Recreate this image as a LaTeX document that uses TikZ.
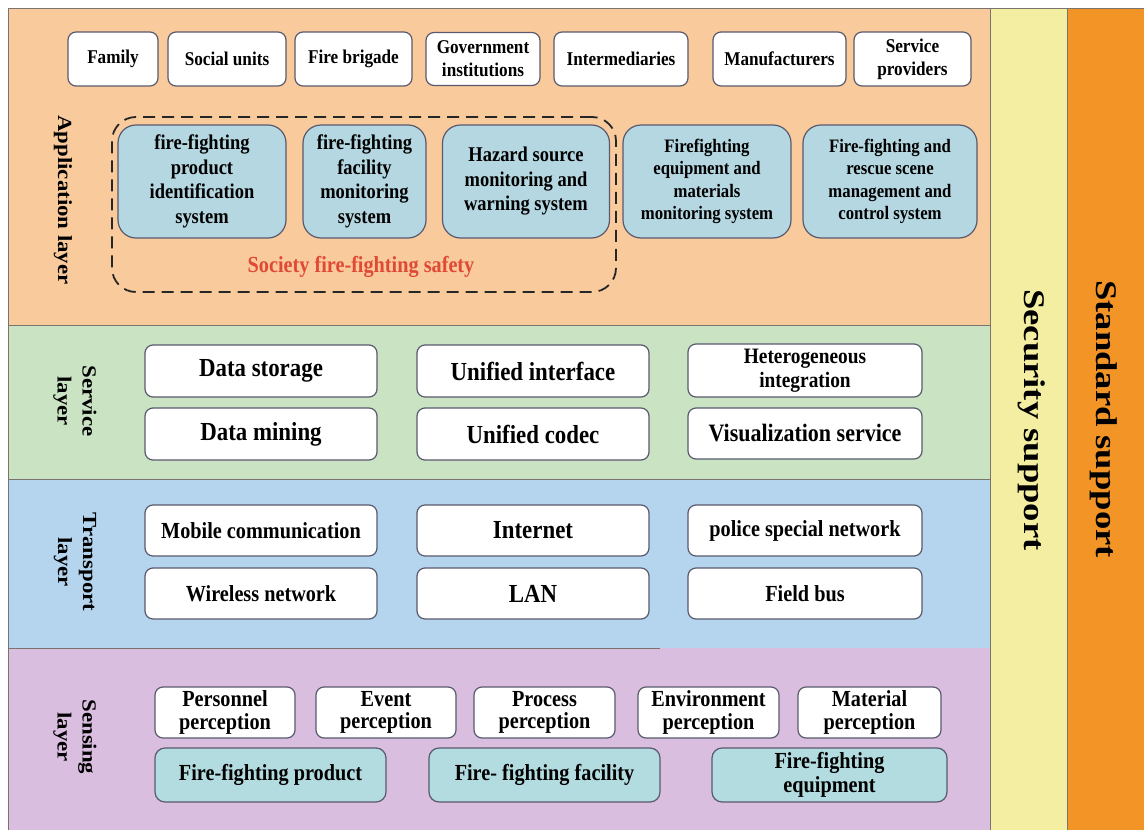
\documentclass[tikz,border=0pt]{standalone}
\usepackage{fontspec}
\setmainfont{Liberation Serif}
% condensed serif for horizontal labels, extended serif for the vertical ones
\newfontfamily\hb{Liberation Serif}[FakeStretch=0.88]
\newfontfamily\vb{Liberation Serif}[FakeStretch=1.14]
\newfontfamily\vc{Liberation Serif}[FakeStretch=1.22]
\newcommand\fz[2]{\fontsize{#1}{#2}\selectfont}

\definecolor{appbg}{HTML}{F9CA9C}
\definecolor{svcbg}{HTML}{C9E3C3}
\definecolor{trbg}{HTML}{B5D5EE}
\definecolor{snbg}{HTML}{D9BEDF}
\definecolor{secbg}{HTML}{F3EEA2}
\definecolor{stdbg}{HTML}{F29426}
\definecolor{appblue}{HTML}{B4D7E1}
\definecolor{senseblue}{HTML}{B3DCE0}
\definecolor{boxline}{HTML}{5A5A6E}
\definecolor{edgegray}{HTML}{7A7470}
\definecolor{redtxt}{HTML}{E04A35}

\begin{document}
\begin{tikzpicture}[x=1pt,y=-1pt,
  wbox/.style={draw=boxline, line width=1.2pt, fill=white, rounded corners=8pt,
    align=center, inner sep=0pt},
  bbox/.style={draw=boxline, line width=1.2pt, fill=appblue, rounded corners=18pt,
    align=center, inner sep=0pt},
  sbox/.style={draw=boxline, line width=1.2pt, fill=senseblue, rounded corners=10pt,
    align=center, inner sep=0pt},
  layerlabel/.style={rotate=-90, align=center, inner sep=0pt, font=\vb\bfseries\fz{20}{25}},
  sidelabel/.style={rotate=-90, inner sep=0pt, font=\vc\bfseries\fz{30}{34}},
  edge/.style={draw=edgegray, line width=1pt}]

\useasboundingbox (0,0) rectangle (1144,830);
\fill[white] (0,0) rectangle (1144,830);

% layer bands
\fill[appbg] (8,8) rectangle (990,325);
\fill[svcbg] (8,325) rectangle (990,479);
\fill[trbg]  (8,479) rectangle (990,648);
\fill[snbg]  (8,648) rectangle (990,830);
\fill[secbg] (990,8) rectangle (1067,830);
\fill[stdbg] (1067,8) rectangle (1144,830);

% band borders
\draw[edge] (8,830) -- (8,8) -- (1144,8);
\draw[edge] (990,8) -- (990,830);
\draw[edge] (1067,8) -- (1067,830);
\draw[edge] (8,325) -- (990,325);
\draw[edge] (8,479) -- (990,479);
\draw[edge] (8,648) -- (660,648);

% side columns
\node[sidelabel] (sec) at (1032,420) {Security support};
\node[sidelabel] (std) at (1104,419) {Standard support};

% layer names
\node[layerlabel] (lapp) at (63,200) {Application layer};
\node[layerlabel] (lsvc) at (75,401) {Service\\layer};
\node[layerlabel] (ltr)  at (75,562) {Transport\\layer};
\node[layerlabel] (lsn)  at (75,737) {Sensing\\layer};

% ---------- application layer ----------
\begin{scope}[every node/.append style={font=\hb\bfseries\fz{19.5}{23}}]
\node[wbox, minimum width=90pt,  minimum height=54pt] (family) at (113,59)   {Family};
\node[wbox, minimum width=118pt, minimum height=54pt] (social) at (227,59)   {Social units};
\node[wbox, minimum width=117pt, minimum height=54pt] (brig)   at (353.5,59) {Fire brigade};
\node[wbox, minimum width=114pt, minimum height=53pt] (gov)    at (483,59)   {Government\\institutions};
\node[wbox, minimum width=134pt, minimum height=54pt] (inter)  at (621,59)   {Intermediaries};
\node[wbox, minimum width=133pt, minimum height=54pt] (manu)   at (779.5,59) {Manufacturers};
\node[wbox, minimum width=117pt, minimum height=54pt] (serv)   at (912.5,59) {Service\\providers};
\end{scope}

\node[draw=black!85, line width=1.8pt, dash pattern=on 12pt off 7pt, rounded corners=24pt,
      minimum width=504pt, minimum height=175pt, inner sep=0pt] (safety) at (364,204.5) {};

\begin{scope}[every node/.append style={font=\hb\bfseries\fz{21}{24.5}}]
\node[bbox, minimum width=168pt, minimum height=113pt] (prodid) at (202,181.5)
  {fire-fighting\\product\\identification\\system};
\node[bbox, minimum width=123pt, minimum height=113pt] (facmon) at (364.5,181.5)
  {fire-fighting\\facility\\monitoring\\system};
\node[bbox, minimum width=167pt, minimum height=113pt] (hazard) at (526,181.5)
  {Hazard source\\monitoring and\\warning system};
\end{scope}
\begin{scope}[every node/.append style={font=\hb\bfseries\fz{19}{22.5}}]
\node[bbox, minimum width=168pt, minimum height=113pt] (equip) at (707,181.5)
  {Firefighting\\equipment and\\materials\\monitoring system};
\node[bbox, minimum width=174pt, minimum height=113pt] (rescue) at (890,181.5)
  {Fire-fighting and\\rescue scene\\management and\\control system};
\end{scope}

\node[text=redtxt, font=\hb\bfseries\fz{23}{26}, inner sep=0pt] (safetylbl) at (361,267)
  {Society fire-fighting safety};

% ---------- service layer ----------
\begin{scope}[every node/.append style={font=\hb\bfseries\fz{26}{28}}]
\node[wbox, minimum width=232pt, minimum height=52pt] (store)  at (261,371) {Data storage};
\node[wbox, minimum width=232pt, minimum height=52pt] (mine)   at (261,434) {Data mining};
\node[wbox, minimum width=232pt, minimum height=52pt] (uiface) at (533,371) {Unified interface};
\node[wbox, minimum width=232pt, minimum height=52pt] (ucodec) at (533,434) {Unified codec};
\end{scope}
\node[wbox, minimum width=234pt, minimum height=53pt, font=\hb\bfseries\fz{22}{24}]
  (hetero) at (805,370.5) {Heterogeneous\\integration};
\node[wbox, minimum width=234pt, minimum height=51pt, font=\hb\bfseries\fz{25}{28}]
  (visual) at (805,433.5) {Visualization service};

% ---------- transport layer ----------
\begin{scope}[every node/.append style={font=\hb\bfseries\fz{23}{26}}]
\node[wbox, minimum width=232pt, minimum height=51pt] (mobile)   at (261,530.5) {Mobile communication};
\node[wbox, minimum width=232pt, minimum height=51pt] (wireless) at (261,593.5) {Wireless network};
\node[wbox, minimum width=234pt, minimum height=51pt] (police)   at (805,530.5) {police special network};
\node[wbox, minimum width=234pt, minimum height=51pt] (fieldbus) at (805,593.5) {Field bus};
\end{scope}
\begin{scope}[every node/.append style={font=\hb\bfseries\fz{26}{28}}]
\node[wbox, minimum width=232pt, minimum height=51pt] (inet) at (533,530.5) {Internet};
\node[wbox, minimum width=232pt, minimum height=51pt] (lan)  at (533,593.5) {LAN};
\end{scope}

% ---------- sensing layer ----------
\begin{scope}[every node/.append style={font=\hb\bfseries\fz{23}{22.5}}]
\node[wbox, minimum width=140pt, minimum height=51pt] (pers) at (225,712.5) {Personnel\\perception};
\node[wbox, minimum width=140pt, minimum height=51pt] (evt)  at (386,712.5) {Event\\perception};
\node[wbox, minimum width=141pt, minimum height=51pt] (proc) at (544.5,712.5) {Process\\perception};
\node[wbox, minimum width=141pt, minimum height=51pt] (env)  at (708.5,712.5) {Environment\\perception};
\node[wbox, minimum width=143pt, minimum height=51pt] (mat)  at (869.5,712.5) {Material\\perception};
\end{scope}
\begin{scope}[every node/.append style={font=\hb\bfseries\fz{23}{24}}]
\node[sbox, minimum width=231pt, minimum height=54pt] (fprod) at (270.5,775) {Fire-fighting product};
\node[sbox, minimum width=231pt, minimum height=54pt] (ffac)  at (544.5,775) {Fire- fighting facility};
\node[sbox, minimum width=235pt, minimum height=54pt] (fequ)  at (829.5,775) {Fire-fighting\\equipment};
\end{scope}

\end{tikzpicture}
\end{document}
